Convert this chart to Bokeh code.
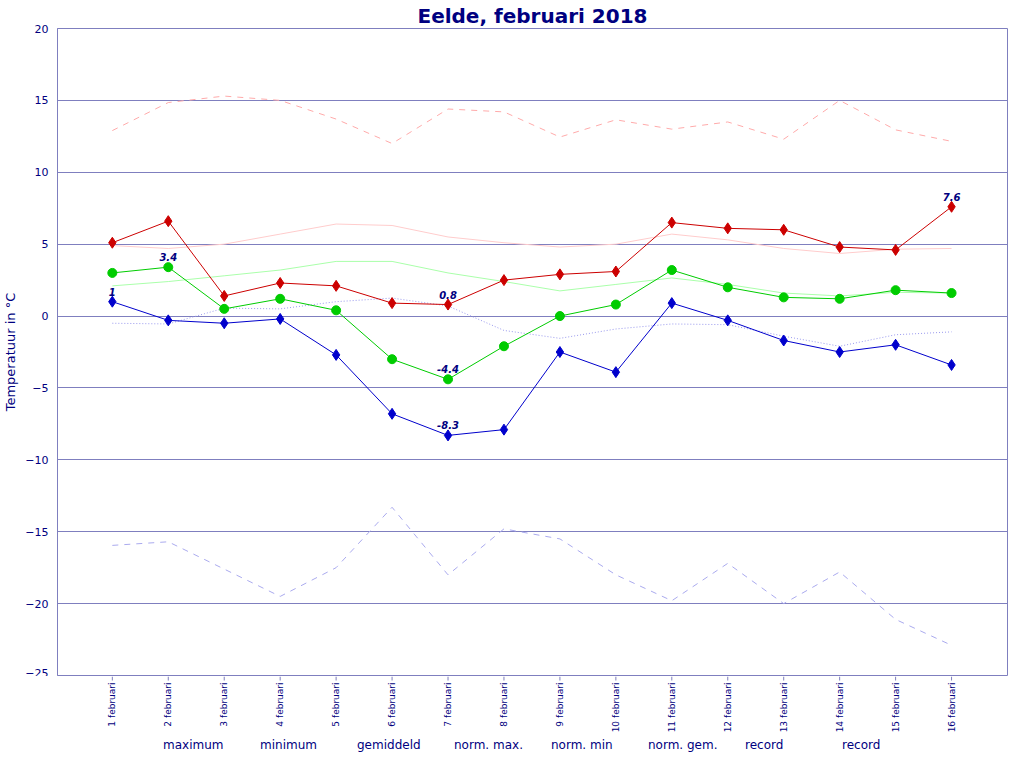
import math
from bokeh.plotting import figure
from bokeh.layouts import column
from bokeh.models import Range1d, FixedTicker, Legend, LegendItem, ColumnDataSource, LabelSet
from bokeh.embed import file_html
from bokeh.resources import INLINE
from bokeh.core.properties import value

days = list(range(1, 17))
day_labels = [f"{d} februari" for d in days]

maximum = [5.1, 6.6, 1.4, 2.3, 2.1, 0.9, 0.8, 2.5, 2.9, 3.1, 6.5, 6.1, 6.0, 4.8, 4.6, 7.6]
minimum = [1.0, -0.3, -0.5, -0.2, -2.7, -6.8, -8.3, -7.9, -2.5, -3.9, 0.9, -0.3, -1.7, -2.5, -2.0, -3.4]
gemiddeld = [3.0, 3.4, 0.5, 1.2, 0.4, -3.0, -4.4, -2.1, 0.0, 0.8, 3.2, 2.0, 1.3, 1.2, 1.8, 1.6]
norm_max = [4.9, 4.7, 5.0, 5.7, 6.4, 6.3, 5.5, 5.1, 4.8, 5.0, 5.7, 5.3, 4.7, 4.35, 4.65, 4.7]
norm_min = [-0.5, -0.55, 0.55, 0.5, 1.0, 1.25, 0.7, -1.0, -1.55, -0.9, -0.55, -0.6, -1.4, -2.1, -1.3, -1.1]
norm_gem = [2.1, 2.4, 2.8, 3.2, 3.8, 3.8, 3.0, 2.4, 1.75, 2.2, 2.65, 2.2, 1.6, 1.4, 1.65, 1.6]
record_max = [12.9, 14.85, 15.3, 15.0, 13.7, 12.0, 14.4, 14.2, 12.45, 13.65, 13.0, 13.5, 12.3, 15.0, 12.95, 12.15]
record_min = [-15.95, -15.7, -17.6, -19.5, -17.5, -13.3, -18.0, -14.8, -15.5, -18.0, -19.8, -17.2, -20.0, -17.8, -21.1, -22.9]

label_x = [1, 2, 7, 7, 7, 16]
label_y = [1.0, 3.4, 0.8, -4.4, -8.3, 7.6]
label_text = ["1", "3.4", "0.8", "-4.4", "-8.3", "7.6"]

y_ticks = [-25, -20, -15, -10, -5, 0, 5, 10, 15, 20]
Y_MIN, Y_MAX = -25, 20

NAVY = "#000080"
GRID = "#7f7fbf"
FONT = "DejaVu Sans"

C_MAX, C_MIN, C_GEM = "#cc0000", "#0000cc", "#00cc00"
C_NMAX, C_NMIN, C_NGEM = "#ffcccc", "#9999ee", "#aaffaa"
C_RMAX, C_RMIN = "#ffaaaa", "#aaaaee"

# ---------------- main chart ----------------
p = figure(width=1008, height=676, output_backend="svg", toolbar_location=None,
           x_range=Range1d(0.02, 17.0), y_range=Range1d(Y_MIN, Y_MAX),
           min_border_left=29, min_border_right=1, min_border_bottom=1, min_border_top=8)

p.title.text = "Eelde, februari 2018"
p.title.align = "center"
p.title.text_font = FONT
p.title.text_font_size = "20px"
p.title.text_font_style = "bold"
p.title.text_color = NAVY
p.title.standoff = 2

p.outline_line_color = GRID
p.outline_line_width = 1
p.background_fill_color = "white"
p.border_fill_color = "white"

p.xgrid.grid_line_color = None
p.ygrid.grid_line_color = GRID
p.ygrid.grid_line_width = 1
p.ygrid.ticker = FixedTicker(ticks=y_ticks)

p.yaxis.ticker = FixedTicker(ticks=y_ticks)
p.yaxis.axis_line_color = GRID
p.yaxis.major_tick_line_color = None
p.yaxis.minor_tick_line_color = None
p.yaxis.major_label_text_color = NAVY
p.yaxis.major_label_text_font = FONT
p.yaxis.major_label_standoff = 3
p.yaxis.axis_label = "Temperatuur in °C"
p.yaxis.axis_label_text_color = NAVY
p.yaxis.axis_label_text_font = FONT
p.yaxis.axis_label_text_font_size = "13px"
p.yaxis.axis_label_text_font_style = "normal"
p.yaxis.axis_label_standoff = 4

p.xaxis.visible = False

src = ColumnDataSource(dict(x=days, maximum=maximum, minimum=minimum, gemiddeld=gemiddeld,
                            norm_max=norm_max, norm_min=norm_min, norm_gem=norm_gem,
                            record_max=record_max, record_min=record_min))

p.line("x", "record_max", source=src, line_color=C_RMAX, line_width=1, line_dash="6 6")
p.line("x", "record_min", source=src, line_color=C_RMIN, line_width=1, line_dash="6 6")
p.line("x", "norm_max", source=src, line_color=C_NMAX, line_width=1)
p.line("x", "norm_min", source=src, line_color=C_NMIN, line_width=1, line_dash="1 2")
p.line("x", "norm_gem", source=src, line_color=C_NGEM, line_width=1)

p.line("x", "maximum", source=src, line_color=C_MAX, line_width=1)
p.scatter("x", "maximum", source=src, marker="diamond", size=11, fill_color=C_MAX, line_color=C_MAX)
p.line("x", "minimum", source=src, line_color=C_MIN, line_width=1)
p.scatter("x", "minimum", source=src, marker="diamond", size=11, fill_color=C_MIN, line_color=C_MIN)
p.line("x", "gemiddeld", source=src, line_color=C_GEM, line_width=1)
p.scatter("x", "gemiddeld", source=src, marker="circle", size=9, fill_color=C_GEM, line_color=C_GEM)

lsrc = ColumnDataSource(dict(x=label_x, y=label_y, t=label_text))
labels = LabelSet(x="x", y="y", text="t", source=lsrc, text_align="center",
                  text_baseline="bottom", y_offset=6, text_color=NAVY,
                  text_font=value(FONT), text_font_size="10px", text_font_style="bold italic")
p.add_layout(labels)

# ---------------- strip below: x tick labels and legend ----------------
H2 = 76
p2 = figure(width=1008, height=H2, output_backend="svg", toolbar_location=None,
            x_range=p.x_range, y_range=Range1d(0, H2),
            x_axis_location=None, y_axis_location=None,
            min_border_left=29, min_border_right=1, min_border_top=0, min_border_bottom=0)
p2.outline_line_color = None
p2.grid.grid_line_color = None
p2.background_fill_color = "white"
p2.border_fill_color = "white"

tsrc = ColumnDataSource(dict(x=days, y0=[H2] * len(days), y1=[H2 - 4] * len(days),
                             ly=[H2 - 6] * len(days), t=day_labels))
p2.segment(x0="x", y0="y0", x1="x", y1="y1", source=tsrc, line_color=GRID, line_width=1)
p2.text(x="x", y="ly", text="t", source=tsrc, angle=math.pi / 2,
        text_align="right", text_baseline="middle", text_color=NAVY,
        text_font=value(FONT), text_font_size=value("9px"))

e = dict(x=[], y=[])
g_max_l = p2.line(x=[], y=[], line_color=C_MAX, line_width=1)
g_max_s = p2.scatter(x=[], y=[], marker="diamond", size=11, fill_color=C_MAX, line_color=C_MAX)
g_min_l = p2.line(x=[], y=[], line_color=C_MIN, line_width=1)
g_min_s = p2.scatter(x=[], y=[], marker="diamond", size=11, fill_color=C_MIN, line_color=C_MIN)
g_gem_l = p2.line(x=[], y=[], line_color=C_GEM, line_width=1)
g_gem_s = p2.scatter(x=[], y=[], marker="circle", size=9, fill_color=C_GEM, line_color=C_GEM)
g_nmax = p2.line(x=[], y=[], line_color=C_NMAX, line_width=1)
g_nmin = p2.line(x=[], y=[], line_color=C_NMIN, line_width=1, line_dash="1 2")
g_ngem = p2.line(x=[], y=[], line_color=C_NGEM, line_width=1)
g_rmax = p2.line(x=[], y=[], line_color=C_RMAX, line_width=1, line_dash="4 4")
g_rmin = p2.line(x=[], y=[], line_color=C_RMIN, line_width=1, line_dash="4 4")

legend = Legend(items=[
    LegendItem(label="maximum", renderers=[g_max_l, g_max_s]),
    LegendItem(label="minimum", renderers=[g_min_l, g_min_s]),
    LegendItem(label="gemiddeld", renderers=[g_gem_l, g_gem_s]),
    LegendItem(label="norm. max.", renderers=[g_nmax]),
    LegendItem(label="norm. min", renderers=[g_nmin]),
    LegendItem(label="norm. gem.", renderers=[g_ngem]),
    LegendItem(label="record", renderers=[g_rmax]),
    LegendItem(label="record", renderers=[g_rmin]),
], orientation="horizontal", location=(83, 0))
legend.border_line_color = None
legend.background_fill_alpha = 0
legend.label_text_color = NAVY
legend.label_text_font = FONT
legend.label_text_font_size = "12px"
legend.glyph_width = 20
legend.glyph_height = 12
legend.label_height = 12
legend.label_standoff = 3
legend.label_width = 70
legend.spacing = 4
legend.padding = 2
legend.margin = 0
p2.add_layout(legend, "center")

layout = column(p, p2, spacing=0)
open("out.html", "w").write(file_html(layout, INLINE))
